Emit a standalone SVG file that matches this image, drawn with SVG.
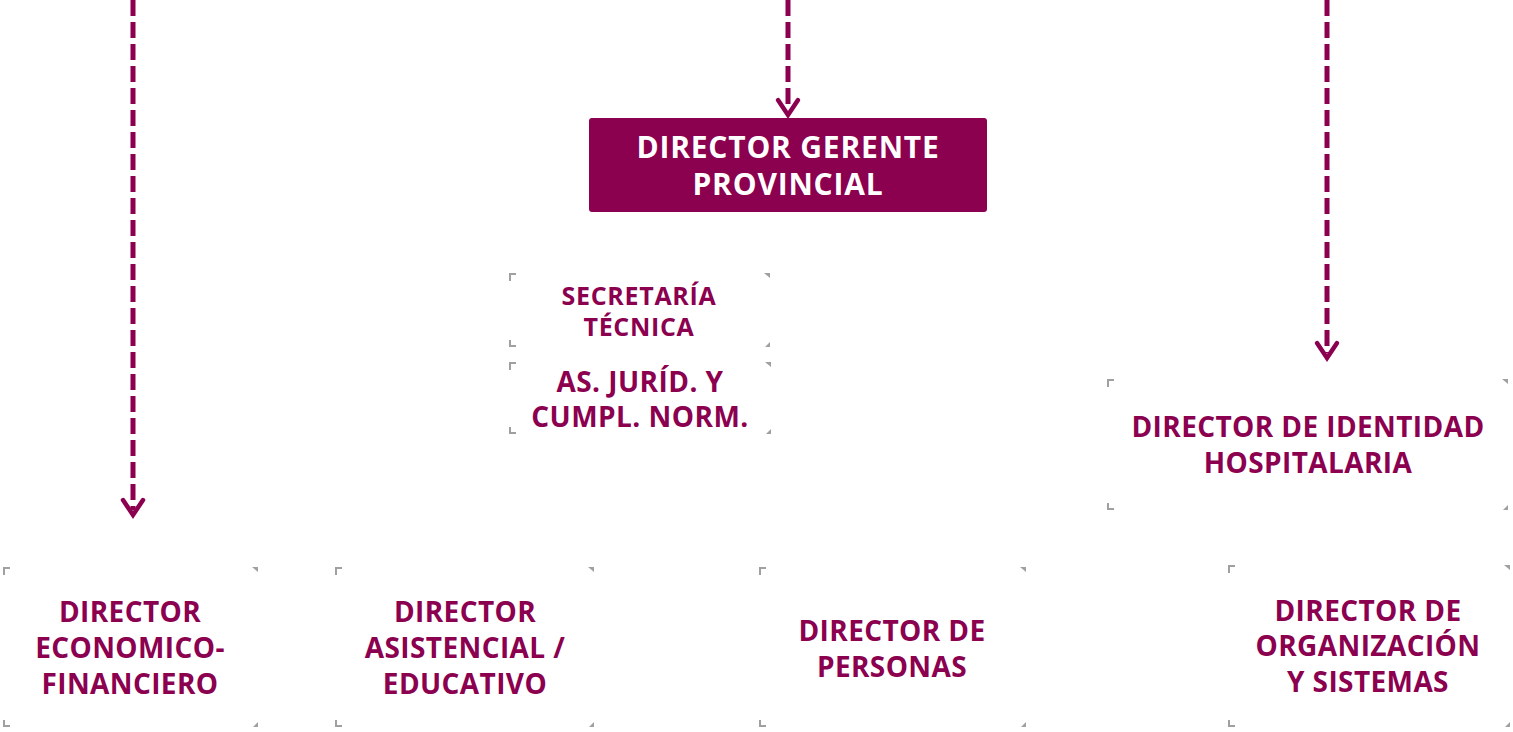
<svg xmlns="http://www.w3.org/2000/svg" width="1513" height="732" viewBox="0 0 1513 732">
<style>
.t{font-family:"Open Sans","Noto Sans","Liberation Sans",sans-serif;font-weight:700;fill:#8b004f;text-anchor:middle;font-size:28px;letter-spacing:0.4px}
.w{fill:#ffffff;font-size:30px;letter-spacing:0.8px}
.s{font-size:25px;letter-spacing:0.7px}
.j{font-size:28px;letter-spacing:0.45px}
.ln{stroke:#8b004f;stroke-width:5;fill:none;stroke-dasharray:16 6}
.hd{stroke:#8b004f;stroke-width:4.5;fill:none;stroke-linecap:round;stroke-linejoin:miter}
.c{fill:#888888;opacity:.8}
</style>
<defs>
<g id="tl"><path class="c" d="M0 0h7v2h-5v6h-2z"/></g>
<g id="tr"><path class="c" d="M0 0h-6l6 5z"/></g>
<g id="bl"><path class="c" d="M0 0v-7h2v5h5v2z"/></g>
<g id="br"><path class="c" d="M0 0h-5l5 -5z"/></g>
</defs>
<g id="connectors">
<path class="ln" d="M788 0V110"/>
<path class="hd" d="M778 100L788 115L798 100"/>
<path class="ln" d="M133 0V510"/>
<path class="hd" d="M123 500L133 515L143 500"/>
<path class="ln" d="M1327 0V353"/>
<path class="hd" d="M1317 343L1327 358L1337 343"/>
</g>
<g id="gerente">
<rect x="589" y="118" width="398" height="94" rx="3" fill="#8b004f"/>
<text class="t w" x="788" y="158">DIRECTOR GERENTE</text>
<text class="t w" x="788" y="195">PROVINCIAL</text>
</g>
<g id="secretaria">
<use href="#tl" x="509" y="273"/><use href="#tr" x="770" y="273"/><use href="#bl" x="509" y="347"/><use href="#br" x="770" y="347"/>
<text class="t s" x="639" y="305">SECRETARÍA</text>
<text class="t s" x="639" y="336">TÉCNICA</text>
</g>
<g id="juridica">
<use href="#tl" x="509" y="362"/><use href="#tr" x="771" y="362"/><use href="#bl" x="509" y="434"/><use href="#br" x="771" y="434"/>
<text class="t j" x="640" y="392">AS. JURÍD. Y</text>
<text class="t j" x="640" y="427">CUMPL. NORM.</text>
</g>
<g id="identidad">
<use href="#tl" x="1107" y="379"/><use href="#tr" x="1508" y="379"/><use href="#bl" x="1107" y="510"/><use href="#br" x="1508" y="510"/>
<text class="t" x="1308" y="437">DIRECTOR DE IDENTIDAD</text>
<text class="t" x="1308" y="473">HOSPITALARIA</text>
</g>
<g id="economico">
<use href="#tl" x="3" y="567"/><use href="#tr" x="258" y="567"/><use href="#bl" x="3" y="727"/><use href="#br" x="258" y="727"/>
<text class="t" x="130" y="622">DIRECTOR</text>
<text class="t" x="130" y="658">ECONOMICO-</text>
<text class="t" x="130" y="694">FINANCIERO</text>
</g>
<g id="asistencial">
<use href="#tl" x="335" y="567"/><use href="#tr" x="594" y="567"/><use href="#bl" x="335" y="727"/><use href="#br" x="594" y="727"/>
<text class="t" x="465" y="622">DIRECTOR</text>
<text class="t" x="465" y="658">ASISTENCIAL /</text>
<text class="t" x="465" y="694">EDUCATIVO</text>
</g>
<g id="personas">
<use href="#tl" x="759" y="567"/><use href="#tr" x="1026" y="567"/><use href="#bl" x="759" y="727"/><use href="#br" x="1026" y="727"/>
<text class="t" x="892" y="641">DIRECTOR DE</text>
<text class="t" x="892" y="677">PERSONAS</text>
</g>
<g id="organizacion">
<use href="#tl" x="1228" y="565"/><use href="#tr" x="1510" y="565"/><use href="#bl" x="1228" y="727"/><use href="#br" x="1510" y="727"/>
<text class="t" x="1368" y="621">DIRECTOR DE</text>
<text class="t" x="1368" y="656">ORGANIZACIÓN</text>
<text class="t" x="1368" y="692">Y SISTEMAS</text>
</g>
</svg>
